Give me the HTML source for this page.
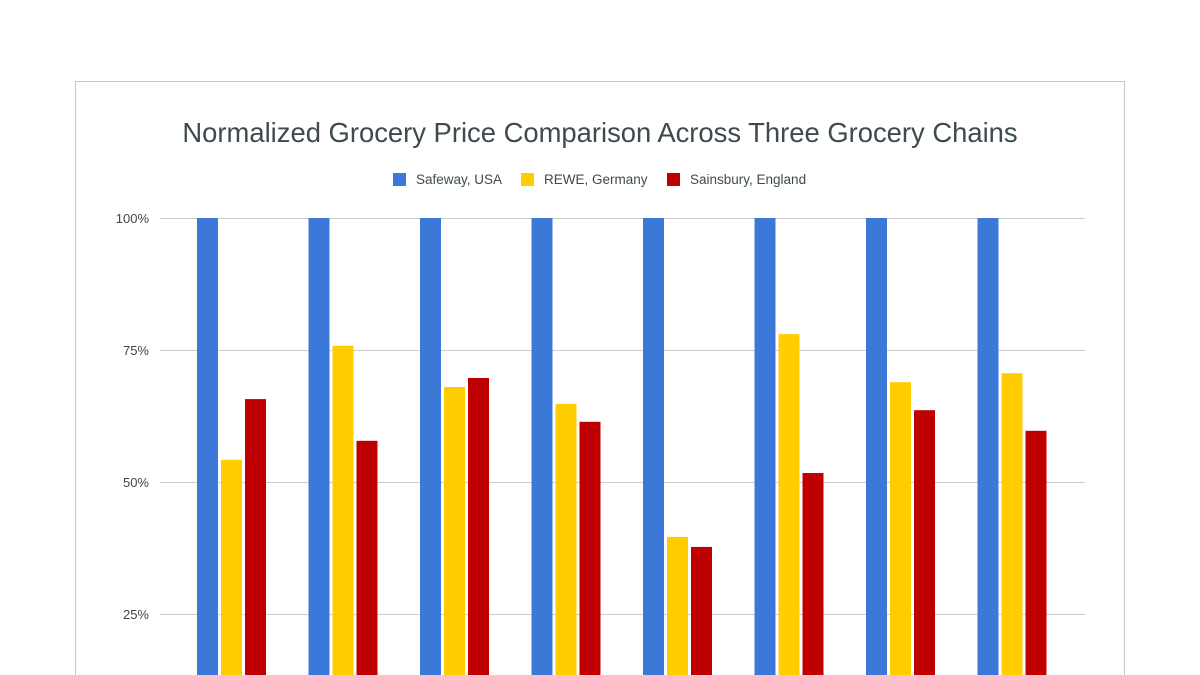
<!DOCTYPE html>
<html><head><meta charset="utf-8"><style>
body{margin:0;background:#fff;width:1200px;height:675px;overflow:hidden;font-family:"Liberation Sans",Arial,sans-serif}
</style></head><body>
<svg width="1200" height="675" style="display:block">
<path d="M75.5 675 V81.5 H1124.5 V675" fill="#fff" stroke="#c8c8c8"/>
<text x="600" y="142" text-anchor="middle" font-size="27.4" fill="#3d4b4e">Normalized Grocery Price Comparison Across Three Grocery Chains</text>
<g id="legend" font-size="13.5" fill="#3d4b4e">
<rect x="393" y="173" width="13" height="13" fill="#3c78d8"/>
<text x="416" y="184">Safeway, USA</text>
<rect x="521" y="173" width="13" height="13" fill="#ffcc00"/>
<text x="544" y="184">REWE, Germany</text>
<rect x="667" y="173" width="13" height="13" fill="#c00000"/>
<text x="690" y="184">Sainsbury, England</text>
</g>
<g id="grid"></g><g id="bars"></g>
</svg>
<script>
const categories=["Item 1","Item 2","Item 3","Item 4","Item 5","Item 6","Item 7","Item 8"];
const safeway=[100,100,100,100,100,100,100,100];
const rewe=[54.2,75.8,68.0,64.8,39.6,78.0,68.9,70.6];
const sainsbury=[65.7,57.8,69.7,61.4,37.7,51.7,63.6,59.7];
const ticks=[25,50,75,100];
const tickLabels=["25%","50%","75%","100%"];
const NS="http://www.w3.org/2000/svg";
const y0=746,pxPer=5.28,visBottom=675;
function yScale(v){return y0-v*pxPer;}
const plotL=175.75,groupW=111.5;
function xGroup(i){return plotL+i*groupW+groupW/2;}
const grid=document.getElementById('grid');
ticks.forEach((t,i)=>{
 const l=document.createElementNS(NS,'line');
 l.setAttribute('x1',160);l.setAttribute('x2',1085);
 l.setAttribute('y1',yScale(t)+0.5);l.setAttribute('y2',yScale(t)+0.5);
 l.setAttribute('stroke','#cccccc');
 
 
 grid.appendChild(l);
 const tx=document.createElementNS(NS,'text');
 tx.setAttribute('x',149);tx.setAttribute('y',yScale(t)+5);
 tx.setAttribute('text-anchor','end');tx.setAttribute('font-size','13');tx.setAttribute('fill','#444');
 tx.textContent=tickLabels[i];
 
 
 grid.appendChild(tx);
});
const bars=document.getElementById('bars');
const series=[[safeway,'#3c78d8','safeway'],[rewe,'#ffcc00','rewe'],[sainsbury,'#c00000','sainsbury']];
categories.forEach((c,i)=>{
 series.forEach((s,j)=>{
  const r=document.createElementNS(NS,'rect');
  const x=xGroup(i)-34.5+j*24;
  const top=yScale(s[0][i]);
  r.setAttribute('x',x);r.setAttribute('width',21);
  r.setAttribute('y',top);r.setAttribute('height',Math.max(0,Math.min(y0,visBottom)-top));
  r.setAttribute('fill',s[1]);
  
  
  bars.appendChild(r);
 });
});
</script>
</body></html>
